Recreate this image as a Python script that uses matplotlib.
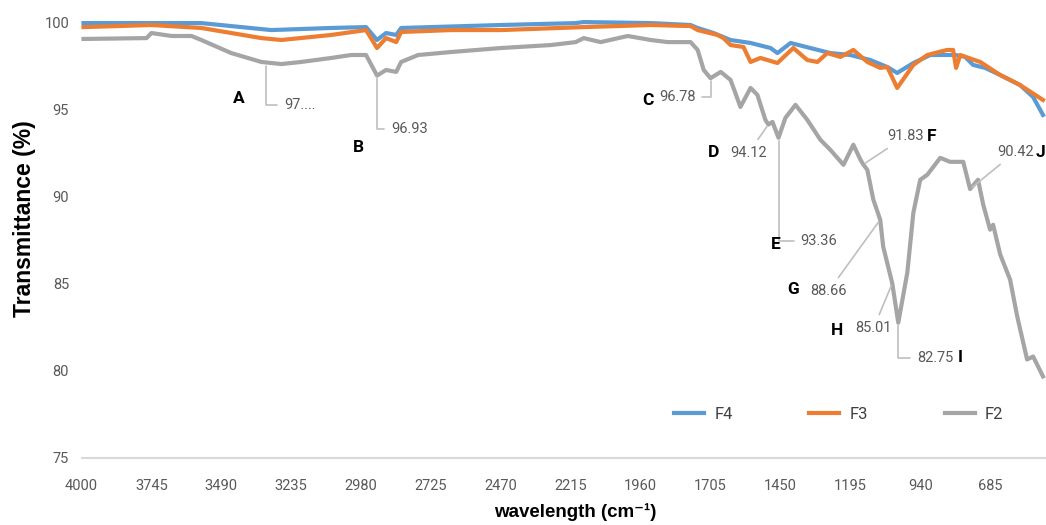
#FTIR spectra of F2, F3, F4 with labelled F2 bands

import matplotlib.pyplot as plt
from matplotlib import font_manager


#wavenumber (cm-1) and transmittance (%)
f4_wn = [3993, 3563, 3308, 3089, 2962, 2922, 2889, 2852, 2834, 2470, 2197, 2168,
         1923, 1778, 1752, 1694, 1632, 1559, 1486, 1461, 1413, 1341, 1268, 1195,
         1122, 1060, 1024, 965, 903, 812, 776, 747, 703, 648, 576, 528, 492]
f4_t = [99.94, 99.94, 99.54, 99.66, 99.71, 98.97, 99.37, 99.26, 99.66, 99.83, 99.94, 100.0,
        99.94, 99.83, 99.66, 99.37, 98.97, 98.80, 98.51, 98.22, 98.80, 98.51, 98.22, 98.11,
        97.82, 97.42, 97.08, 97.65, 98.11, 98.11, 98.00, 97.54, 97.37, 96.96, 96.39, 95.70, 94.67]

f3_wn = [3993, 3745, 3563, 3344, 3271, 3089, 2962, 2922, 2889, 2852, 2834, 2652, 2470,
         2168, 1923, 1778, 1752, 1680, 1658, 1632, 1585, 1559, 1523, 1461, 1403, 1352,
         1315, 1279, 1231, 1184, 1133, 1086, 1060, 1024, 965, 914, 842, 820, 809, 794,
         721, 648, 576, 492]
f3_t = [99.71, 99.83, 99.66, 99.08, 98.97, 99.26, 99.54, 98.51, 99.08, 98.85, 99.43, 99.54, 99.54,
        99.71, 99.83, 99.77, 99.54, 99.26, 99.08, 98.68, 98.57, 97.71, 97.94, 97.65, 98.51, 97.82,
        97.71, 98.22, 98.00, 98.40, 97.71, 97.37, 97.42, 96.22, 97.54, 98.11, 98.40, 98.40, 97.37, 98.11,
        97.71, 96.96, 96.39, 95.53]

f2_wn = [3993, 3763, 3745, 3672, 3599, 3563, 3454, 3344, 3271, 3199, 3089, 3016, 2962,
         2922, 2889, 2852, 2834, 2772, 2652, 2470, 2288, 2197, 2168, 2106, 2007, 1923,
         1862, 1778, 1752, 1730, 1705, 1668, 1632, 1596, 1559, 1534, 1505, 1494, 1479,
         1457, 1432, 1395, 1352, 1304, 1268, 1220, 1184, 1158, 1148, 1133, 1111, 1086,
         1075, 1042, 1020, 987, 965, 940, 914, 867, 831, 783, 758, 729, 710, 685, 674,
         648, 612, 586, 550, 528, 492]
f2_t = [99.03, 99.08, 99.37, 99.20, 99.20, 98.97, 98.22, 97.71, 97.59, 97.71, 97.94, 98.11, 98.11,
        96.93, 97.25, 97.14, 97.71, 98.11, 98.28, 98.51, 98.68, 98.85, 99.08, 98.85, 99.20, 98.97,
        98.85, 98.85, 98.40, 97.25, 96.78, 97.14, 96.68, 95.13, 96.22, 95.82, 94.39, 94.12, 94.27,
        93.36, 94.50, 95.25, 94.39, 93.24, 92.67, 91.81, 92.96, 92.10, 91.83, 91.52, 89.81, 88.66,
        87.11, 85.01, 82.75, 85.63, 89.06, 90.95, 91.24, 92.21, 91.98, 91.98, 90.42, 90.95, 89.52, 88.09, 88.37,
        86.66, 85.22, 83.11, 80.64, 80.81, 79.67]

#labelled bands on F2
band_names = ['A', 'B', 'C', 'D', 'E', 'F', 'G', 'H', 'I', 'J']
band_wn = [3326, 2922, 1705, 1494, 1457, 1148, 1086, 1042, 1020, 758]
band_t = [97.65, 96.93, 96.78, 94.12, 93.36, 91.83, 88.66, 85.01, 82.75, 90.42]
band_text = ['97....', '96.93', '96.78', '94.12', '93.36', '91.83', '88.66', '85.01', '82.75', '90.42']

x_ticks = [4000, 3745, 3490, 3235, 2980, 2725, 2470, 2215, 1960, 1705, 1450, 1195, 940, 685]
y_ticks = [75, 80, 85, 90, 95, 100]


def pick_font(names):
	installed = {f.name for f in font_manager.fontManager.ttflist}
	for n in names:
		if n in installed:
			return n
	return 'DejaVu Sans'


def main():
	narrow = pick_font(['Liberation Sans Narrow', 'DejaVu Sans Condensed', 'Roboto'])
	arial = pick_font(['Liberation Sans', 'Arimo'])

	fig = plt.figure(figsize=(10.46, 5.25), dpi=100)
	ax = fig.add_axes([0.078, 0.128, 0.922, 0.83])

	ax.plot(f4_wn, f4_t, color='#5B9BD5', lw=3, label='F4', clip_on=False)
	ax.plot(f3_wn, f3_t, color='#ED7D31', lw=3, label='F3', clip_on=False)
	ax.plot(f2_wn, f2_t, color='#A5A5A5', lw=3, label='F2', clip_on=False)

	ax.set_xlim(4000, 481)
	ax.set_ylim(75, 100)
	ax.set_xticks(x_ticks)
	ax.set_yticks(y_ticks)
	ax.tick_params(length=0, labelcolor='#595959', labelsize=10.5)
	ax.tick_params(axis='x', pad=15)
	ax.tick_params(axis='y', pad=9)
	for lab in ax.get_xticklabels() + ax.get_yticklabels():
		lab.set_family([narrow, 'DejaVu Sans'])

	for s in ['top', 'right', 'left']:
		ax.spines[s].set_visible(False)
	ax.spines['bottom'].set_color('#D9D9D9')
	ax.spines['bottom'].set_linewidth(1.5)

	ax.set_ylabel('Transmittance (%)', fontsize=16.5, fontweight='bold',
				  family=[arial, 'DejaVu Sans'])
	ax.yaxis.set_label_coords(-0.047, 0.55)
	ax.set_xlabel('wavelength (cm⁻¹)', fontsize=13.5, fontweight='bold',
				  family=[arial, 'DejaVu Sans'])
	ax.xaxis.set_label_coords(0.512, -0.105)

	#offsets in pixels: value text, letter, leader style
	val_off = [(18, -42), (14, -53), (-15, -19), (-38, -28), (22, -103),
			   (24, 28), (-33, -71), (-37, -45), (19, -35), (27, 37)]
	let_off = [(-27, -35), (-19, -72), (-63, -22), (-55, -28), (-3, -107),
			   (68, 28), (-87, -70), (-55, -47), (62, -35), (70, 37)]
	leader = ['angle,angleA=0,angleB=90,rad=0', 'angle,angleA=0,angleB=90,rad=0',
			  'angle,angleA=0,angleB=90,rad=0', 'arc3,rad=0',
			  'angle,angleA=0,angleB=90,rad=0', 'arc3,rad=0', 'arc3,rad=0',
			  'arc3,rad=0', 'angle,angleA=0,angleB=90,rad=0', 'arc3,rad=0']

	for i in range(len(band_names)):
		ha = 'right' if i in (2, 6) else 'left'
		ax.annotate(band_text[i], xy=(band_wn[i], band_t[i]), xytext=val_off[i],
					textcoords='offset pixels', ha=ha, va='center', fontsize=10.5,
					color='#595959', family=[narrow, 'DejaVu Sans'],
					arrowprops=dict(arrowstyle='-', color='#BFBFBF', lw=1.2,
									connectionstyle=leader[i], shrinkA=3, shrinkB=2))
		ax.annotate(band_names[i], xy=(band_wn[i], band_t[i]), xytext=let_off[i],
					textcoords='offset pixels', ha='center', va='center', fontsize=12.5,
					fontweight='bold', color='black', family=[narrow, 'DejaVu Sans'])

	ax.legend(loc='center', bbox_to_anchor=(0.785, 0.099), ncol=3, frameon=False,
			  handlelength=1.8, handletextpad=0.6, columnspacing=4.6,
			  labelcolor='#404040', prop={'family': [narrow, 'DejaVu Sans'], 'size': 12})

	plt.savefig('out.png', dpi=100)


if __name__=='__main__':
	main()
